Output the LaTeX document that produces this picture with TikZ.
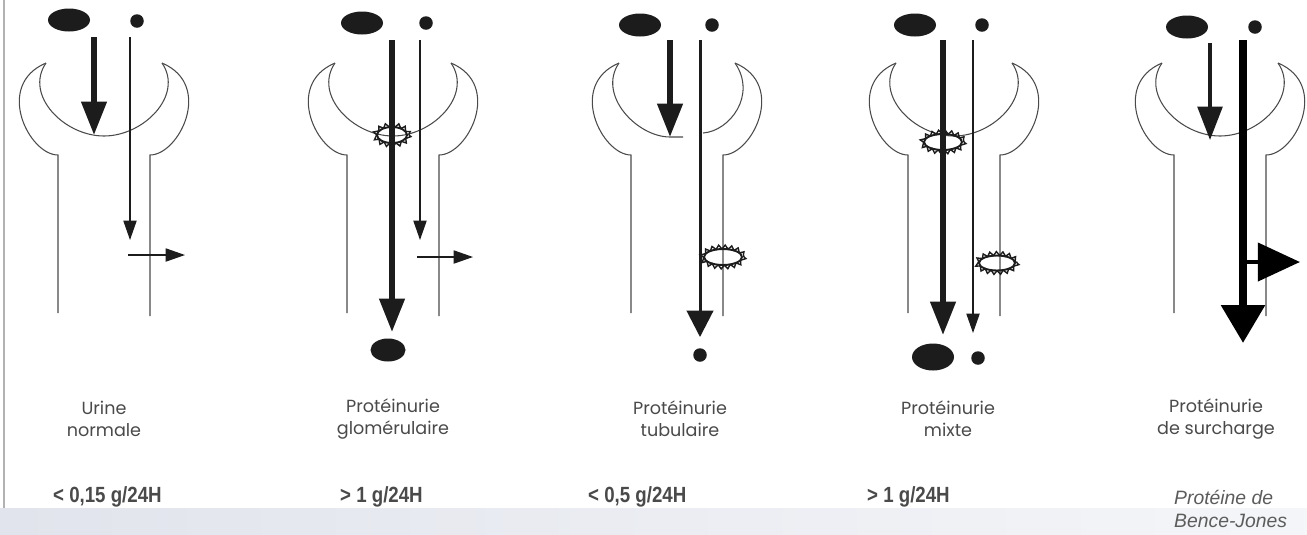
\documentclass[tikz,border=0pt]{standalone}
\usepackage{fontspec}
\usepackage{tikz}
\usetikzlibrary{arrows.meta,shapes.geometric,decorations.pathmorphing}

\newfontfamily\labelfont{Poppins}
\newfontfamily\ratefont[FakeStretch=0.85]{Liberation Sans}
\newfontfamily\notefont{Liberation Sans}

\definecolor{wall}{HTML}{4A4A4A}
\definecolor{ink}{HTML}{1C1C1C}
\definecolor{txt}{HTML}{4A4A4A}
\definecolor{band}{HTML}{E1E4EC}

\tikzset{
  bigmol/.style={ellipse, fill=ink, inner sep=0pt, minimum width=8.4mm, minimum height=4.6mm},
  smallmol/.style={circle, fill=ink, inner sep=0pt, minimum size=2.7mm},
  wallline/.style={draw=wall, line width=0.6pt},
  flowthin/.style={draw=ink, line width=0.7pt, -{Triangle[length=11pt,width=7.5pt]}},
  flowmid/.style={draw=ink, line width=1.7pt, -{Triangle[length=15pt,width=15pt]}},
  flowthick/.style={draw=ink, line width=3.2pt, -{Triangle[length=19pt,width=14pt]}},
  flowhuge/.style={draw=black, line width=4.5pt, -{Triangle[length=21.5pt,width=24pt]}},
  leakhuge/.style={draw=black, line width=2.8pt, -{Triangle[length=24pt,width=21.5pt]}},
  ring/.style={draw=ink, line width=1.1pt},
  lesion/.style={draw=ink, line width=0.8pt, decorate,
    decoration={zigzag, segment length=3.6pt, amplitude=1.1pt}},
  kind/.style={font=\labelfont\fontsize{10}{12.5}\selectfont, text=txt, align=center},
  rate/.style={font=\ratefont\bfseries\fontsize{12.5}{14}\selectfont, text=txt, anchor=west},
  note/.style={font=\notefont\itshape\fontsize{11}{13.6}\selectfont, text=txt!90, align=left, anchor=west}
}

\begin{document}
\begin{tikzpicture}[x=0.2mm, y=-0.2mm]
\useasboundingbox (0,0) rectangle (1307,534);
\fill[white] (0,0) rectangle (1307,534);
\shade[left color=band, right color=band!35!white] (0,508) rectangle (1307,534);
\draw[gray!60, line width=1.2pt] (4,0) -- (4,508);

% capsule and tubule walls
\foreach \cx in {104,393,677,954,1220}{
  \draw[wallline] (\cx-58,63) .. controls (\cx-110,85) and (\cx-75,155) .. (\cx-46,155) -- (\cx-46,313);
  \draw[wallline] (\cx+58,63) .. controls (\cx+110,85) and (\cx+75,155) .. (\cx+46,155) -- (\cx+46,316);
}
\foreach \cx in {104,393,954,1220}
  \draw[wallline] (\cx-58,63) .. controls (\cx-80,95) and (\cx-40,136) .. (\cx,136)
    .. controls (\cx+40,136) and (\cx+80,95) .. (\cx+58,63);
% broken membrane
\draw[wallline] (619,63) .. controls (597,95) and (637,137) .. (670,137) -- (683,137);
\draw[wallline] (703,133) .. controls (730,131) and (757,95) .. (735,63);

% urine normale
\node[bigmol] (big1) at (69,20) {};
\node[smallmol] (small1) at (137,21) {};
\coordinate (s1) at (94,37);   \coordinate (e1) at (94,135);
\coordinate (s1b) at (130,37); \coordinate (e1b) at (130,240);
\coordinate (r1) at (128,255); \coordinate (t1) at (185,255);
\draw[flowthick] (s1) -- (e1);
\draw[flowthin] (s1b) -- (e1b);
\draw[flowthin] (r1) -- (t1);

% glomerulaire
\node[bigmol] (big2) at (362,23) {};
\node[smallmol] (small2) at (426,23) {};
\coordinate (l2) at (392,135);
\draw[ring] (l2) ellipse (15 and 8);
\draw[lesion] (l2) ellipse (17 and 10);
\coordinate (s2) at (392,40);  \coordinate (e2) at (392,332);
\coordinate (s2b) at (420,40); \coordinate (e2b) at (420,240);
\coordinate (r2) at (417,257); \coordinate (t2) at (473,257);
\draw[flowthick] (s2) -- (e2);
\draw[flowthin] (s2b) -- (e2b);
\draw[flowthin] (r2) -- (t2);
\node[bigmol, minimum width=7mm] (ubig2) at (388,350) {};

% tubulaire
\node[bigmol] (big3) at (640,25) {};
\node[smallmol] (small3) at (712,25) {};
\coordinate (l3) at (723,257);
\draw[ring] (l3) ellipse (19 and 8);
\draw[lesion] (l3) ellipse (21 and 10);
\coordinate (s3) at (670,40);  \coordinate (e3) at (670,137);
\coordinate (s3b) at (700,40); \coordinate (e3b) at (700,337);
\draw[flowthick] (s3) -- (e3);
\draw[flowmid] (s3b) -- (e3b);
\node[smallmol] (usmall3) at (700,355) {};

% mixte
\node[bigmol] (big4) at (915,25) {};
\node[smallmol] (small4) at (982,25) {};
\coordinate (l4) at (943,142);
\coordinate (l4b) at (997,263);
\draw[ring] (l4) ellipse (19 and 8);
\draw[lesion] (l4) ellipse (21 and 10);
\draw[ring] (l4b) ellipse (18 and 7.5);
\draw[lesion] (l4b) ellipse (20 and 9.5);
\coordinate (s4) at (943,40);  \coordinate (e4) at (943,335);
\coordinate (s4b) at (973,40); \coordinate (e4b) at (973,333);
\draw[flowthick] (s4) -- (e4);
\draw[flowthin] (s4b) -- (e4b);
\node[bigmol, minimum height=5.4mm] (ubig4) at (933,357) {};
\node[smallmol] (usmall4) at (978,358) {};

% surcharge
\node[bigmol] (big5) at (1187,27) {};
\node[smallmol] (small5) at (1255,27) {};
\coordinate (s5) at (1210,43);   \coordinate (e5) at (1210,140);
\coordinate (s5b) at (1243,40);  \coordinate (e5b) at (1243,343);
\coordinate (r5) at (1243,262);  \coordinate (t5) at (1300,262);
\draw[flowthick, line width=2.2pt] (s5) -- (e5);
\draw[flowhuge] (s5b) -- (e5b);
\draw[leakhuge] (r5) -- (t5);

% legends
\node[kind] (k1) at (104,419) {Urine\\normale};
\node[kind] (k2) at (393,419) {Protéinurie\\glomérulaire};
\node[kind] (k3) at (680,419) {Protéinurie\\tubulaire};
\node[kind] (k4) at (948,419) {Protéinurie\\mixte};
\node[kind] (k5) at (1216,419) {Protéinurie\\de surcharge};

\node[rate] (q1) at (47,497) {< 0,15 g/24H};
\node[rate] (q2) at (334,497) {> 1 g/24H};
\node[rate] (q3) at (582,497) {< 0,5 g/24H};
\node[rate] (q4) at (861,497) {> 1 g/24H};
\node[note] (q5) at (1168,509) {Protéine de\\Bence-Jones};
\end{tikzpicture}
\end{document}
